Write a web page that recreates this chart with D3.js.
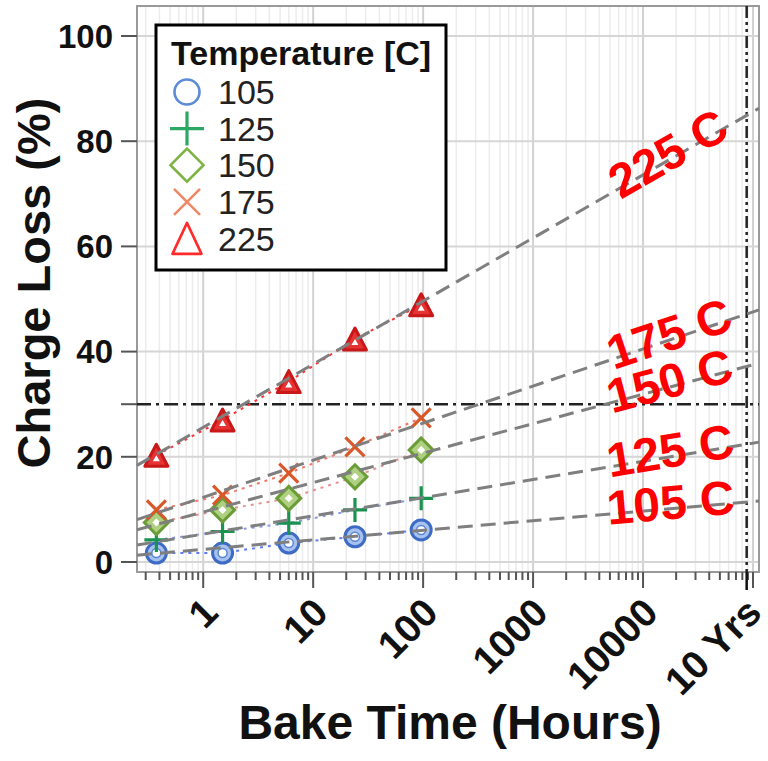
<!DOCTYPE html>
<html>
<head>
<meta charset="utf-8">
<script src="https://cdn.jsdelivr.net/npm/d3@7"></script>
<style>
  html, body { margin: 0; padding: 0; background: #fff; }
  svg { display: block; }
  text { font-family: "Liberation Sans", Arial, sans-serif; }
</style>
</head>
<body>
<svg id="chart" width="768" height="761"></svg>
<script>
// Bake times (hours) at which charge loss was measured
const bakeHours = [0.375, 1.5, 6, 24, 96];
// Bake temperatures (C)
const temperatures = [105, 125, 150, 175, 225];
// Measured charge loss (%) per temperature
const loss105 = [1.7, 1.7, 3.6, 4.8, 6.1];
const loss125 = [4.2, 5.8, 7.4, 9.9, 12.1];
const loss150 = [7.5, 9.9, 12.1, 16.2, 21.3];
const loss175 = [9.9, 12.7, 16.9, 21.9, 27.4];
const loss225 = [20.3, 27.0, 34.3, 42.4, 48.9];
// Log-linear fits: loss = intercept + slope * log10(hours)
const fitIntercept = [2.4, 5.3, 9.5, 12.3, 25.6];
const fitSlope = [1.82, 3.46, 5.6, 7.05, 12.0];
const fitLabels = ["105 C", "125 C", "150 C", "175 C", "225 C"];
const fitLabelHours = 18000;
// Axis ticks
const yTicks = [0, 20, 40, 60, 80, 100];
const xTickValues = [1, 10, 100, 1000, 10000, 87600];
const xTickLabels = ["1", "10", "100", "1000", "10000", "10 Yrs"];
// Reference limits
const lossLimit = 30;
const tenYearHours = 87600;

const lossSeries = [loss105, loss125, loss150, loss175, loss225];

(function draw() {
const svg = d3.select("#chart");
const pl = 137, pr = 759, pt = 6, pb = 572;

const x = d3.scaleLog().domain([0.25, 113400]).range([pl, pr]);
const y = d3.scaleLinear().domain([-1.9, 105.7]).range([pb, pt]);
const isDecade = d => Math.abs(Math.log10(d) - Math.round(Math.log10(d))) < 1e-9;

svg.append("rect").attr("width", 768).attr("height", 761).attr("fill", "#fff");

// ---- grid ----
const grid = svg.append("g");
const minorX = [];
for (let e = -1; e <= 5; e++) {
  for (let m = 1; m <= 9; m++) {
    const v = m * Math.pow(10, e);
    if (v > x.domain()[0] && v < x.domain()[1]) minorX.push(v);
  }
}
grid.selectAll("line.v").data(minorX).join("line")
  .attr("x1", d => x(d)).attr("x2", d => x(d))
  .attr("y1", pt).attr("y2", pb)
  .attr("stroke", d => isDecade(d) ? "#d2d2d2" : "#ececec")
  .attr("stroke-width", d => isDecade(d) ? 2 : 1.5);
grid.selectAll("line.h").data(yTicks).join("line")
  .attr("x1", pl).attr("x2", pr)
  .attr("y1", d => y(d)).attr("y2", d => y(d))
  .attr("stroke", "#d6d6d6").attr("stroke-width", 2);

// ---- frame ----
svg.append("rect").attr("x", pl).attr("y", pt)
  .attr("width", pr - pl).attr("height", pb - pt)
  .attr("fill", "none").attr("stroke", "#9a9a9a").attr("stroke-width", 2);

// ---- y axis ticks & labels ----
const yAxis = svg.append("g");
yAxis.selectAll("line").data(yTicks.concat([lossLimit])).join("line")
  .attr("x1", pl - 16).attr("x2", pl)
  .attr("y1", d => y(d)).attr("y2", d => y(d))
  .attr("stroke", "#555").attr("stroke-width", 2);
yAxis.selectAll("text").data(yTicks).join("text")
  .attr("x", 113).attr("y", d => y(d)).attr("dy", "0.36em")
  .attr("text-anchor", "end").attr("font-weight", "bold").attr("font-size", 33)
  .attr("fill", "#111").text(d => d);

// ---- x axis ticks & labels ----
const xAxis = svg.append("g");
xAxis.selectAll("line").data(minorX).join("line")
  .attr("x1", d => x(d)).attr("x2", d => x(d))
  .attr("y1", pb).attr("y2", d => isDecade(d) ? pb + 16 : pb + 8)
  .attr("stroke", "#555").attr("stroke-width", 2);
xAxis.append("line")
  .attr("x1", x(tenYearHours)).attr("x2", x(tenYearHours))
  .attr("y1", pb).attr("y2", pb + 18)
  .attr("stroke", "#111").attr("stroke-width", 2.5);
xAxis.selectAll("text").data(xTickValues).join("text")
  .attr("transform", d => `translate(${x(d) + 17},${pb + 43}) rotate(-45)`)
  .attr("text-anchor", "end").attr("font-weight", "bold").attr("font-size", 39)
  .attr("fill", "#111").text((d, i) => xTickLabels[i]);

// ---- axis titles ----
svg.append("text")
  .attr("transform", `translate(50,283) rotate(-90)`)
  .attr("text-anchor", "middle").attr("font-weight", "bold").attr("font-size", 47)
  .attr("fill", "#111").text("Charge Loss (%)");
svg.append("text")
  .attr("x", 450).attr("y", 739)
  .attr("text-anchor", "middle").attr("font-weight", "bold").attr("font-size", 48)
  .attr("fill", "#111").text("Bake Time (Hours)");

// ---- reference lines ----
svg.append("line")
  .attr("x1", pl).attr("x2", pr)
  .attr("y1", y(lossLimit)).attr("y2", y(lossLimit))
  .attr("stroke", "#222").attr("stroke-width", 2.5)
  .attr("stroke-dasharray", "14,5,3,5");
svg.append("line")
  .attr("x1", x(tenYearHours)).attr("x2", x(tenYearHours))
  .attr("y1", pt).attr("y2", pb)
  .attr("stroke", "#222").attr("stroke-width", 2.5)
  .attr("stroke-dasharray", "12,4,3,4,3,4");

// ---- measured points: connecting lines ----
const connectColors = ["#5d7df0", "#8a9ae6", "#e89090", "#ee7a6a", "#ff3535"];
const lineGen = d3.line().x(d => x(d[0])).y(d => y(d[1]));
lossSeries.forEach((s, i) => {
  svg.append("path")
    .attr("d", lineGen(bakeHours.map((h, j) => [h, s[j]])))
    .attr("fill", "none").attr("stroke", connectColors[i])
    .attr("stroke-width", 2).attr("stroke-dasharray", "3,5");
});

// ---- marker shapes ----
function drawMarker(g, kind, cx, cy, legend) {
  const sw = 2.6;
  if (kind === 0) { // circle
    const r = legend ? 12.5 : 10;
    g.append("circle").attr("cx", cx).attr("cy", cy).attr("r", r)
      .attr("fill", legend ? "none" : "#a7c2ee").attr("stroke", legend ? "#5b8ad6" : "#3d6bc5").attr("stroke-width", legend ? sw : 3);
    if (!legend) g.append("circle").attr("cx", cx).attr("cy", cy).attr("r", 4.5)
      .attr("fill", "#fff").attr("stroke", "#5a85d5").attr("stroke-width", 1.5);
  } else if (kind === 1) { // plus
    const h = legend ? 17 : 12;
    g.append("path").attr("d", `M${cx - h},${cy}H${cx + h}M${cx},${cy - h}V${cy + h}`)
      .attr("stroke", legend ? "#2ca764" : "#1b9350").attr("stroke-width", 3.2).attr("fill", "none");
  } else if (kind === 2) { // diamond
    const h = legend ? 16.5 : 12;
    g.append("path").attr("d", `M${cx},${cy - h}L${cx + h},${cy}L${cx},${cy + h}L${cx - h},${cy}Z`)
      .attr("stroke", legend ? "#7cb342" : "#6a9c38").attr("stroke-width", legend ? sw : 3)
      .attr("fill", legend ? "#fff" : "#aed080");
    if (!legend) g.append("path").attr("d", `M${cx},${cy - 4}L${cx + 4},${cy}L${cx},${cy + 4}L${cx - 4},${cy}Z`)
      .attr("fill", "#fff");
  } else if (kind === 3) { // x
    const h = legend ? 13 : 9.5;
    g.append("path").attr("d", `M${cx - h},${cy - h}L${cx + h},${cy + h}M${cx - h},${cy + h}L${cx + h},${cy - h}`)
      .attr("stroke", legend ? "#f08866" : "#d9582a").attr("stroke-width", legend ? 2.6 : 3.2).attr("fill", "none");
  } else { // triangle
    const hw = legend ? 14.5 : 11.5, hh = legend ? 15.5 : 11;
    g.append("path").attr("d", `M${cx},${cy - hh}L${cx + hw},${cy + hh}L${cx - hw},${cy + hh}Z`)
      .attr("stroke", legend ? "#ff2a2a" : "#c81818").attr("stroke-width", legend ? sw : 3)
      .attr("stroke-linejoin", "round")
      .attr("fill", legend ? "#fff" : "#e63232");
    if (!legend) g.append("path").attr("d", `M${cx},${cy}L${cx + 3.5},${cy + 6}L${cx - 3.5},${cy + 6}Z`)
      .attr("fill", "#fff");
  }
}

const markers = svg.append("g");
lossSeries.forEach((s, i) => {
  bakeHours.forEach((h, j) => drawMarker(markers, i, x(h), y(s[j]), false));
});

// ---- fitted trend lines ----
const fitG = svg.append("g");
temperatures.forEach((t, i) => {
  const f = h => fitIntercept[i] + fitSlope[i] * Math.log10(h);
  const [h0, h1] = x.domain();
  fitG.append("line")
    .attr("x1", x(h0)).attr("y1", y(f(h0)))
    .attr("x2", x(h1)).attr("y2", y(f(h1)))
    .attr("stroke", "#7f7f7f").attr("stroke-width", 3)
    .attr("stroke-dasharray", "15,8");
});

// ---- fit labels, aligned with each trend line ----
const labelG = svg.append("g");
temperatures.forEach((t, i) => {
  const f = h => fitIntercept[i] + fitSlope[i] * Math.log10(h);
  const [h0, h1] = x.domain();
  const ang = Math.atan2(y(f(h1)) - y(f(h0)), x(h1) - x(h0)) * 180 / Math.PI;
  const px = x(fitLabelHours), py = y(f(fitLabelHours));
  labelG.append("text")
    .attr("transform", `translate(${px},${py}) rotate(${ang})`)
    .attr("text-anchor", "middle").attr("dy", "0.22em")
    .attr("font-weight", "bold").attr("font-size", 48)
    .attr("fill", "#ff0000").text(fitLabels[i]);
});

// ---- legend ----
const lg = svg.append("g");
lg.append("rect").attr("x", 156).attr("y", 25).attr("width", 290).attr("height", 245)
  .attr("fill", "#fff").attr("stroke", "#000").attr("stroke-width", 3);
lg.append("text").attr("x", 171).attr("y", 65)
  .attr("font-weight", "bold").attr("font-size", 34).attr("fill", "#111")
  .text("Temperature [C]");
temperatures.forEach((t, i) => {
  const cy = 92 + i * 36.6;
  drawMarker(lg, i, 187, cy, true);
  lg.append("text").attr("x", 218).attr("y", cy).attr("dy", "0.36em")
    .attr("font-size", 34).attr("fill", "#222").text(t);
});
})();
</script>
</body>
</html>
